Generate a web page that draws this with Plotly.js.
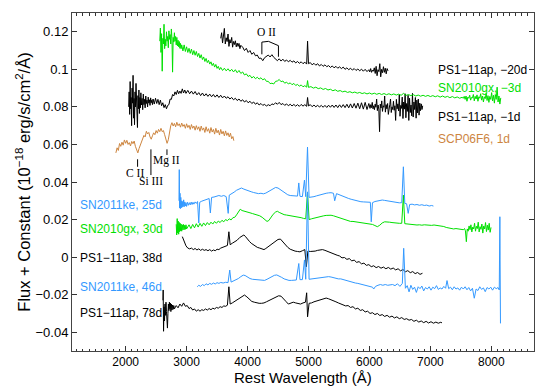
<!DOCTYPE html>
<html>
<head>
<meta charset="utf-8">
<script src="https://cdn.plot.ly/plotly-3.0.1.min.js"></script>
<style>
  html, body { margin: 0; padding: 0; background: #fff; }
  #chart { width: 550px; height: 386px; }
</style>
</head>
<body>
<div id="chart"></div>
<script>
const black = "#000000";
const green = "#00e000";
const blue = "#3399ff";
const brown = "#cd853f";

// spectra as [rest wavelength (A), flux + offset]
const ps1m20 = [
  [3560,0.1165],[3575,0.1195],[3590,0.1140],[3605,0.1175],[3620,0.1218],[3635,0.1135],[3650,0.1168],[3665,0.1148],
  [3680,0.1188],[3695,0.1122],[3710,0.1158],[3725,0.1140],[3740,0.1170],[3755,0.1118],[3770,0.1148],[3785,0.1132],
  [3800,0.1152],[3815,0.1120],[3830,0.1140],[3845,0.1122],[3860,0.1138],[3875,0.1110],[3890,0.1128],
  [3920,0.1118],[3950,0.1100],[3980,0.1112],[4010,0.1090],[4040,0.1100],[4070,0.1080],[4100,0.1090],[4130,0.1072],
  [4160,0.1076],[4190,0.1058],[4220,0.1060],[4250,0.1046],[4280,0.1062],[4310,0.1068],[4340,0.1076],[4370,0.1066],
  [4400,0.1078],[4430,0.1064],[4460,0.1056],[4490,0.1046],[4520,0.1056],[4550,0.1044],[4580,0.1054],[4610,0.1042],
  [4640,0.1050],[4670,0.1040],[4700,0.1048],[4730,0.1038],[4760,0.1045],[4790,0.1034],[4820,0.1042],[4850,0.1032],
  [4880,0.1040],[4910,0.1030],[4940,0.1038],[4970,0.1028],[4985,0.1150],[5000,0.1030],[5030,0.1036],[5060,0.1024],
  [5090,0.1032],[5120,0.1022],[5150,0.1030],[5180,0.1018],[5210,0.1026],[5240,0.1016],[5270,0.1024],[5300,0.1014],
  [5330,0.1020],[5360,0.1010],[5390,0.1018],[5420,0.1008],[5450,0.1016],[5480,0.1006],[5510,0.1013],[5540,0.1004],
  [5570,0.1012],[5600,0.1000],[5630,0.1008],[5660,0.0998],[5690,0.1006],[5720,0.0996],[5750,0.1004],[5780,0.0994],
  [5810,0.1002],[5840,0.0992],[5870,0.1001],[5900,0.0990],[5930,0.1000],[5960,0.0988],
  [5990,0.0998],[6005,0.0986],[6020,0.1004],[6035,0.0984],[6050,0.0996],[6065,0.0990],[6080,0.1008],[6095,0.0978],
  [6110,0.1016],[6125,0.0966],[6140,0.0998],[6155,0.0988],[6170,0.1030],[6185,0.0960],[6200,0.1000],[6215,0.0982],
  [6230,0.1014],[6245,0.0984],[6260,0.1006],[6275,0.0976],[6290,0.1004],[6305,0.0992]
];

const gx3 = [
  [2560,0.1150],[2570,0.1220],[2580,0.1090],[2590,0.1190],[2600,0.0990],[2610,0.1165],[2620,0.1135],[2630,0.1240],
  [2640,0.1110],[2650,0.1160],[2660,0.1125],[2670,0.1200],[2680,0.1150],[2690,0.1175],[2700,0.1115],[2710,0.1205],
  [2720,0.1160],[2730,0.1185],[2740,0.1135],[2750,0.1215],[2760,0.1165],[2770,0.0985],[2780,0.1170],[2790,0.1145],
  [2800,0.1195],[2810,0.1150],[2820,0.1175],[2830,0.1130],[2840,0.1170],[2850,0.1125],[2860,0.1155],[2870,0.1120],
  [2880,0.1148],[2890,0.1112],[2900,0.1138],[2910,0.1110],[2920,0.1130],
  [2940,0.1098],[2960,0.1130],[2980,0.1095],[3000,0.1120],[3020,0.1090],[3040,0.1112],[3060,0.1085],[3080,0.1108],
  [3100,0.1078],[3120,0.1100],[3140,0.1075],[3160,0.1095],[3180,0.1068],[3200,0.1085],[3220,0.1060],[3240,0.1078],
  [3260,0.1052],[3280,0.1066],[3300,0.1042],[3320,0.1058],[3340,0.1036],[3360,0.1048],[3380,0.1028],[3400,0.1040],
  [3420,0.1020],[3440,0.1032],[3460,0.1012],[3480,0.1026],[3500,0.1005],[3520,0.1016],[3540,0.0998],[3560,0.1010],
  [3590,0.0994],[3620,0.1006],[3650,0.0992],[3680,0.1003],[3710,0.0990],[3740,0.1000],[3770,0.0986],[3800,0.0998],
  [3830,0.0982],[3860,0.0994],[3890,0.0978],[3920,0.0986],[3950,0.0970],[3980,0.0976],[4010,0.0962],[4040,0.0968],
  [4070,0.0954],[4100,0.0962],[4130,0.0950],[4160,0.0958],[4190,0.0948],[4220,0.0955],[4250,0.0944],[4280,0.0950],
  [4310,0.0936],[4340,0.0936],[4370,0.0924],[4400,0.0926],[4430,0.0922],[4460,0.0936],[4490,0.0938],[4520,0.0946],
  [4550,0.0934],[4580,0.0938],[4610,0.0926],[4640,0.0932],[4670,0.0922],[4700,0.0928],[4730,0.0918],[4760,0.0925],
  [4790,0.0914],[4820,0.0920],[4850,0.0910],[4880,0.0917],[4910,0.0907],[4940,0.0913],[4970,0.0905],[4985,0.0940],
  [5000,0.0904],[5040,0.0908],[5080,0.0900],[5120,0.0905],[5160,0.0897],[5200,0.0901],[5240,0.0893],[5280,0.0898],
  [5320,0.0890],[5360,0.0894],[5400,0.0886],[5440,0.0891],[5480,0.0883],[5520,0.0887],[5560,0.0880],[5600,0.0884],
  [5640,0.0877],[5680,0.0881],[5720,0.0875],[5760,0.0879],[5800,0.0873],[5840,0.0877],[5880,0.0871],[5920,0.0875],
  [5960,0.0869],[6000,0.0874],[6040,0.0868],[6080,0.0873],[6120,0.0867],[6160,0.0872],[6200,0.0866],[6240,0.0871],
  [6280,0.0865],[6320,0.0870],[6360,0.0864],[6400,0.0869],[6440,0.0863],[6480,0.0868],[6520,0.0862],[6560,0.0872],
  [6600,0.0861],[6640,0.0866],[6680,0.0860],[6720,0.0865],[6760,0.0858],[6800,0.0863],[6840,0.0857],[6880,0.0862],
  [6920,0.0856],[6960,0.0861],[7000,0.0855],[7040,0.0860],[7080,0.0854],[7120,0.0859],[7160,0.0852],[7200,0.0858],
  [7240,0.0851],[7280,0.0856],[7320,0.0849],[7360,0.0855],[7400,0.0848],[7440,0.0853],[7480,0.0846],[7520,0.0851],
  [7540,0.0846],[7555,0.0856],[7570,0.0840],[7585,0.0858],[7600,0.0830],[7615,0.0852],[7630,0.0846],[7645,0.0862],
  [7660,0.0836],[7675,0.0850],[7690,0.0848],[7705,0.0866],[7720,0.0832],[7735,0.0856],[7750,0.0842],[7765,0.0864],
  [7780,0.0830],[7795,0.0854],[7810,0.0846],[7825,0.0870],[7840,0.0836],[7855,0.0858],[7870,0.0826],[7885,0.0854],
  [7900,0.0844],[7915,0.0872],[7930,0.0834],[7945,0.0860],[7960,0.0824],[7975,0.0856],[7990,0.0840],[8005,0.0876],
  [8020,0.0832],[8035,0.0862],[8050,0.0820],[8065,0.0866],[8080,0.0840],[8095,0.0905],[8110,0.0826],[8125,0.0858],
  [8140,0.0815],[8155,0.0848]
];

const ps1m1 = [
  [2050,0.0800],[2058,0.0880],[2066,0.0760],[2074,0.0935],[2082,0.0790],[2090,0.0850],[2098,0.0700],[2106,0.0900],
  [2114,0.0820],[2122,0.0968],[2130,0.0740],[2138,0.0845],[2146,0.0705],[2154,0.0880],[2162,0.0800],[2170,0.0925],
  [2178,0.0770],[2186,0.0835],[2194,0.0690],[2202,0.0860],[2210,0.0790],[2218,0.0890],[2226,0.0765],[2234,0.0850],
  [2242,0.0795],[2250,0.0875],[2260,0.0810],[2270,0.0845],[2280,0.0785],[2290,0.0868],[2300,0.0812],[2310,0.0840],
  [2320,0.0795],[2330,0.0858],[2340,0.0818],[2350,0.0836],[2360,0.0800],[2370,0.0852],[2380,0.0820],[2390,0.0838],
  [2400,0.0808],[2410,0.0848],[2420,0.0822],[2430,0.0836],[2440,0.0812],[2450,0.0842],
  [2470,0.0815],[2490,0.0846],[2510,0.0818],[2530,0.0840],[2550,0.0812],[2570,0.0836],[2590,0.0806],[2610,0.0822],
  [2630,0.0796],[2650,0.0812],[2670,0.0790],[2690,0.0808],[2710,0.0812],[2730,0.0842],[2750,0.0840],[2770,0.0866],
  [2790,0.0858],[2810,0.0880],[2830,0.0866],[2850,0.0888],[2870,0.0870],[2890,0.0884],[2910,0.0872],[2930,0.0896],
  [2950,0.0874],[2970,0.0890],[2990,0.0872],
  [3020,0.0888],[3050,0.0870],[3080,0.0884],[3110,0.0868],[3140,0.0882],[3170,0.0864],[3200,0.0876],[3230,0.0860],
  [3260,0.0874],[3290,0.0858],[3320,0.0870],[3350,0.0856],[3380,0.0868],[3410,0.0854],[3440,0.0866],[3470,0.0852],
  [3500,0.0864],[3530,0.0850],[3560,0.0862],[3590,0.0848],[3620,0.0858],[3650,0.0846],[3680,0.0854],[3710,0.0842],
  [3740,0.0850],[3770,0.0838],[3800,0.0846],[3830,0.0834],[3860,0.0842],[3890,0.0830],[3920,0.0838],[3950,0.0826],
  [3980,0.0834],[4010,0.0822],[4040,0.0830],[4070,0.0818],[4100,0.0826],[4130,0.0814],[4160,0.0822],[4190,0.0810],
  [4220,0.0818],[4250,0.0808],[4280,0.0814],[4310,0.0804],[4340,0.0812],[4370,0.0806],[4400,0.0816],[4430,0.0812],
  [4460,0.0822],[4490,0.0814],[4520,0.0824],[4550,0.0812],[4580,0.0818],[4610,0.0808],[4640,0.0816],[4670,0.0806],
  [4700,0.0814],[4730,0.0805],[4760,0.0813],[4790,0.0804],[4820,0.0812],[4850,0.0803],[4880,0.0813],[4910,0.0804],
  [4940,0.0812],[4970,0.0803],[4985,0.0850],[5000,0.0805],[5030,0.0812],[5060,0.0801],[5090,0.0810],[5120,0.0800],
  [5150,0.0809],[5180,0.0799],[5210,0.0808],[5240,0.0798],[5270,0.0808],[5300,0.0797],[5330,0.0809],[5360,0.0798],
  [5390,0.0810],[5420,0.0797],[5450,0.0810],[5480,0.0796],[5510,0.0811],[5540,0.0797],[5570,0.0812],[5600,0.0796],
  [5630,0.0814],[5660,0.0795],[5690,0.0816],[5720,0.0794],[5750,0.0818],[5780,0.0793],[5810,0.0820],[5840,0.0790],
  [5870,0.0822],[5900,0.0788],[5930,0.0824],[5960,0.0786],[5990,0.0818],
  [6010,0.0792],[6022,0.0812],[6034,0.0796],[6046,0.0824],[6058,0.0790],[6070,0.0806],[6082,0.0785],[6094,0.0815],
  [6106,0.0798],[6118,0.0842],[6130,0.0780],[6142,0.0810],[6154,0.0788],[6166,0.0668],[6178,0.0815],[6190,0.0794],
  [6202,0.0832],[6214,0.0776],[6226,0.0806],[6238,0.0798],[6250,0.0858],[6262,0.0772],[6274,0.0812],[6286,0.0790],
  [6298,0.0818],[6310,0.0760],[6322,0.0804],[6334,0.0812],[6346,0.0842],[6358,0.0770],[6370,0.0800],[6382,0.0786],
  [6394,0.0830],[6406,0.0782],[6418,0.0806],[6430,0.0728],[6442,0.0840],[6454,0.0790],[6466,0.0816],[6478,0.0778],
  [6490,0.0866],[6502,0.0750],[6514,0.0808],[6526,0.0792],[6538,0.0852],[6550,0.0738],[6562,0.0826],[6574,0.0788],
  [6586,0.0870],[6598,0.0742],[6610,0.0818],[6622,0.0776],[6634,0.0862],[6646,0.0728],[6658,0.0846],[6670,0.0770],
  [6682,0.0810],[6694,0.0752],[6706,0.0872],[6718,0.0746],[6730,0.0826],[6742,0.0786],[6754,0.0850],[6766,0.0740],
  [6778,0.0836],[6790,0.0768],[6802,0.0842],[6814,0.0756],[6826,0.0820],[6838,0.0780],[6850,0.0816],[6862,0.0786],
  [6874,0.0806]
];

const scp = [
  [1840,0.0555],[1860,0.0582],[1880,0.0568],[1900,0.0605],[1920,0.0590],[1940,0.0612],[1960,0.0596],[1980,0.0624],
  [2000,0.0606],[2020,0.0622],[2040,0.0600],[2060,0.0610],[2080,0.0592],[2100,0.0616],[2120,0.0604],[2140,0.0618],
  [2160,0.0590],[2180,0.0575],[2200,0.0555],[2220,0.0578],[2240,0.0598],[2260,0.0614],[2280,0.0632],[2300,0.0648],
  [2320,0.0640],[2340,0.0670],[2360,0.0656],[2380,0.0664],[2400,0.0640],[2420,0.0628],[2440,0.0646],[2460,0.0662],
  [2480,0.0652],[2500,0.0674],[2520,0.0660],[2540,0.0680],[2560,0.0668],[2580,0.0686],[2600,0.0668],[2620,0.0674],
  [2640,0.0652],[2660,0.0630],[2680,0.0606],[2700,0.0625],[2720,0.0664],[2740,0.0700],[2760,0.0716],[2780,0.0698],
  [2800,0.0712],[2820,0.0694],[2840,0.0718],[2860,0.0700],[2880,0.0710],[2900,0.0692],[2920,0.0714],[2940,0.0696],
  [2960,0.0706],[2980,0.0686],[3000,0.0710],[3020,0.0690],[3040,0.0702],[3060,0.0680],[3080,0.0706],[3100,0.0686],
  [3120,0.0698],[3140,0.0676],[3160,0.0700],[3180,0.0680],[3200,0.0694],[3220,0.0670],[3240,0.0698],[3260,0.0676],
  [3280,0.0688],[3300,0.0664],[3320,0.0694],[3340,0.0670],[3360,0.0684],[3380,0.0660],[3400,0.0690],[3420,0.0666],
  [3440,0.0680],[3460,0.0655],[3480,0.0686],[3500,0.0662],[3520,0.0676],[3540,0.0650],[3560,0.0680],[3580,0.0656],
  [3600,0.0670],[3620,0.0646],[3640,0.0672],[3660,0.0648],[3680,0.0662],[3700,0.0640],[3720,0.0660],[3740,0.0630],
  [3760,0.0642],[3775,0.0620]
];

const ke25 = [
  [2875,0.0300],[2880,0.0466],[2886,0.0262],[2892,0.0340],[2898,0.0258],[2905,0.0318],[2912,0.0262],[2920,0.0300],
  [2928,0.0266],[2936,0.0296],[2944,0.0270],[2952,0.0305],[2960,0.0268],[2970,0.0294],[2980,0.0272],[2990,0.0290],
  [3000,0.0270],[3015,0.0292],[3030,0.0276],[3045,0.0290],[3060,0.0278],[3075,0.0293],[3090,0.0280],[3105,0.0292],
  [3120,0.0282],[3140,0.0294],[3160,0.0286],[3180,0.0296],[3200,0.0182],
  [3215,0.0292],[3250,0.0298],[3290,0.0304],[3330,0.0310],[3370,0.0312],[3390,0.0235],[3410,0.0318],[3450,0.0320],
  [3490,0.0324],[3530,0.0328],[3570,0.0324],[3610,0.0328],[3650,0.0322],[3683,0.0233],[3700,0.0330],[3740,0.0336],
  [3780,0.0346],[3820,0.0356],[3860,0.0364],[3900,0.0368],[3940,0.0362],[3980,0.0356],[4020,0.0350],[4060,0.0348],
  [4100,0.0344],[4140,0.0340],[4180,0.0338],[4220,0.0340],[4260,0.0337],[4300,0.0341],[4340,0.0348],[4380,0.0358],
  [4420,0.0366],[4460,0.0371],[4500,0.0368],[4540,0.0358],[4580,0.0348],[4620,0.0338],[4660,0.0332],[4700,0.0328],
  [4740,0.0326],[4780,0.0324],[4820,0.0325],[4841,0.0395],[4860,0.0324],[4900,0.0322],[4934,0.0410],[4955,0.0322],
  [4984,0.0586],[5010,0.0318],[5050,0.0318],[5090,0.0322],[5130,0.0326],[5170,0.0330],[5210,0.0334],[5250,0.0336],
  [5290,0.0340],[5330,0.0342],[5370,0.0343],[5410,0.0340],[5430,0.0300],[5460,0.0338],[5500,0.0332],[5540,0.0326],
  [5580,0.0320],[5620,0.0316],[5660,0.0312],[5700,0.0308],[5740,0.0304],[5780,0.0300],[5820,0.0298],[5860,0.0295],
  [5900,0.0294],[5940,0.0293],[5980,0.0292],[6015,0.0292],[6030,0.0188],[6050,0.0290],[6090,0.0296],[6130,0.0300],
  [6170,0.0303],[6210,0.0304],[6250,0.0302],[6290,0.0300],[6330,0.0296],[6370,0.0294],[6410,0.0291],[6450,0.0290],
  [6490,0.0289],[6530,0.0290],[6557,0.0481],[6580,0.0286],[6610,0.0284],[6636,0.0233],[6660,0.0280],[6700,0.0282],
  [6740,0.0278],[6780,0.0280],[6820,0.0276],[6860,0.0279],[6900,0.0275],[6940,0.0277],[6980,0.0272],[7020,0.0275],
  [7050,0.0272]
];

const gx30 = [
  [2830,0.0175],[2838,0.0118],[2846,0.0205],[2854,0.0128],[2862,0.0192],[2870,0.0122],[2878,0.0185],[2886,0.0135],
  [2894,0.0180],[2902,0.0140],[2910,0.0176],[2920,0.0138],[2930,0.0172],[2940,0.0145],[2950,0.0174],[2960,0.0146],
  [2970,0.0170],[2980,0.0148],[2990,0.0172],[3000,0.0150],
  [3040,0.0172],[3070,0.0152],[3100,0.0174],[3130,0.0156],[3160,0.0178],[3190,0.0160],[3220,0.0180],[3250,0.0164],
  [3280,0.0182],[3310,0.0168],[3340,0.0184],[3370,0.0172],[3400,0.0186],[3430,0.0176],[3460,0.0190],[3490,0.0180],
  [3520,0.0192],[3550,0.0184],[3580,0.0196],[3610,0.0188],[3640,0.0200],[3670,0.0194],[3700,0.0204],[3730,0.0198],
  [3760,0.0210],[3790,0.0212],[3820,0.0225],[3850,0.0240],[3880,0.0255],[3910,0.0248],[3940,0.0246],[3970,0.0240],
  [4000,0.0242],[4040,0.0236],[4080,0.0232],[4120,0.0228],[4160,0.0226],[4200,0.0220],[4240,0.0212],[4280,0.0200],
  [4320,0.0190],[4350,0.0195],[4380,0.0210],[4420,0.0228],[4460,0.0240],[4490,0.0244],[4520,0.0238],[4560,0.0230],
  [4600,0.0226],[4640,0.0224],[4680,0.0222],[4720,0.0218],[4760,0.0216],[4800,0.0214],[4840,0.0212],[4880,0.0210],
  [4920,0.0206],[4955,0.0204],[4984,0.0347],[5010,0.0200],[5050,0.0204],[5090,0.0208],[5130,0.0212],[5170,0.0215],
  [5210,0.0218],[5250,0.0220],[5290,0.0222],[5330,0.0224],[5370,0.0223],[5410,0.0220],[5450,0.0216],[5490,0.0212],
  [5530,0.0206],[5570,0.0200],[5610,0.0196],[5650,0.0192],[5690,0.0190],[5730,0.0190],[5770,0.0188],[5810,0.0186],
  [5850,0.0185],[5890,0.0184],[5930,0.0182],[5970,0.0180],[6010,0.0178],[6050,0.0174],[6090,0.0168],[6130,0.0162],
  [6170,0.0170],[6210,0.0182],[6250,0.0188],[6290,0.0189],[6330,0.0186],[6370,0.0184],[6410,0.0182],[6450,0.0181],
  [6490,0.0180],[6530,0.0180],[6557,0.0330],[6580,0.0178],[6620,0.0176],[6660,0.0174],[6700,0.0172],[6740,0.0173],
  [6780,0.0171],[6820,0.0172],[6860,0.0170],[6900,0.0172],[6940,0.0170],[6980,0.0171],[7020,0.0169],[7060,0.0171],
  [7100,0.0170],[7140,0.0168],[7180,0.0166],[7220,0.0163],[7260,0.0158],[7300,0.0154],[7340,0.0152],[7380,0.0150],
  [7420,0.0152],[7460,0.0150],[7500,0.0148],[7540,0.0146],
  [7560,0.0152],[7575,0.0140],[7590,0.0082],[7605,0.0150],[7620,0.0138],[7635,0.0166],[7650,0.0146],[7665,0.0172],
  [7680,0.0134],[7695,0.0160],[7710,0.0150],[7725,0.0180],[7740,0.0138],[7755,0.0164],[7770,0.0152],[7785,0.0186],
  [7800,0.0134],[7815,0.0162],[7830,0.0148],[7845,0.0176],[7860,0.0128],[7875,0.0166],[7890,0.0150],[7905,0.0184],
  [7920,0.0136],[7935,0.0170],[7950,0.0144],[7965,0.0180],[7980,0.0132],[7995,0.0158]
];

const ps1d38 = [
  [2930,0.0109],[2960,0.0080],[2990,0.0060],[3020,0.0048],[3050,0.0044],[3080,0.0048],[3110,0.0040],[3140,0.0046],
  [3170,0.0038],[3200,0.0044],[3230,0.0036],[3260,0.0042],[3290,0.0036],[3320,0.0040],[3350,0.0034],[3380,0.0040],
  [3410,0.0032],[3440,0.0038],[3470,0.0034],[3500,0.0042],[3530,0.0040],[3560,0.0048],[3600,0.0054],[3640,0.0058],
  [3670,0.0062],[3694,0.0135],[3715,0.0066],[3750,0.0074],[3790,0.0082],[3830,0.0090],[3870,0.0104],[3910,0.0114],
  [3940,0.0118],[3970,0.0108],[4000,0.0094],[4030,0.0084],[4060,0.0074],[4090,0.0066],[4120,0.0060],[4160,0.0052],
  [4200,0.0048],[4240,0.0042],[4270,0.0040],[4300,0.0046],[4340,0.0056],[4380,0.0066],[4420,0.0078],[4460,0.0088],
  [4500,0.0094],[4540,0.0096],[4580,0.0080],[4620,0.0064],[4660,0.0052],[4700,0.0042],[4740,0.0036],[4780,0.0032],
  [4820,0.0030],[4860,0.0028],[4900,0.0034],[4940,0.0040],[4965,-0.0051],[4990,0.0032],[5030,0.0030],[5070,0.0030],
  [5110,0.0032],[5150,0.0036],[5190,0.0040],[5230,0.0040],[5270,0.0036],[5310,0.0030],[5350,0.0024],[5390,0.0018],
  [5430,0.0014],[5470,0.0010],[5510,0.0006],[5550,-0.0004],[5590,-0.0002],[5630,-0.0012],[5670,-0.0008],[5710,-0.0020],
  [5750,-0.0016],[5790,-0.0028],[5830,-0.0024],[5870,-0.0036],[5910,-0.0032],[5950,-0.0044],[5990,-0.0040],[6030,-0.0051],
  [6070,-0.0046],[6110,-0.0056],[6150,-0.0050],[6190,-0.0059],[6230,-0.0053],[6270,-0.0062],[6310,-0.0055],[6350,-0.0064],
  [6390,-0.0058],[6430,-0.0068],[6470,-0.0062],[6510,-0.0073],[6550,-0.0066],[6590,-0.0078],[6630,-0.0072],[6670,-0.0083],
  [6710,-0.0077],[6750,-0.0088],[6790,-0.0082],[6830,-0.0092],[6870,-0.0086]
];

const ke46 = [
  [3175,-0.0158],[3200,-0.0150],[3230,-0.0156],[3260,-0.0146],[3290,-0.0152],[3320,-0.0142],[3350,-0.0148],[3380,-0.0140],
  [3410,-0.0145],[3440,-0.0138],[3470,-0.0143],[3500,-0.0136],[3530,-0.0140],[3560,-0.0135],[3600,-0.0138],[3640,-0.0134],
  [3680,-0.0136],[3708,-0.0069],[3730,-0.0133],[3770,-0.0128],[3810,-0.0122],[3850,-0.0114],[3890,-0.0104],[3930,-0.0096],
  [3960,-0.0098],[4000,-0.0108],[4040,-0.0114],[4080,-0.0118],[4120,-0.0120],[4160,-0.0122],[4200,-0.0124],[4240,-0.0126],
  [4280,-0.0124],[4320,-0.0118],[4360,-0.0110],[4400,-0.0102],[4440,-0.0097],[4480,-0.0095],[4520,-0.0100],[4560,-0.0108],
  [4600,-0.0116],[4640,-0.0121],[4680,-0.0124],[4720,-0.0124],[4760,-0.0123],[4800,-0.0122],[4841,-0.0034],[4860,-0.0120],
  [4900,-0.0120],[4934,-0.0015],[4955,-0.0118],[4984,0.0347],[5010,-0.0118],[5050,-0.0116],[5090,-0.0114],[5130,-0.0112],
  [5170,-0.0110],[5210,-0.0108],[5250,-0.0106],[5290,-0.0104],[5330,-0.0104],[5370,-0.0106],[5410,-0.0110],[5450,-0.0114],
  [5490,-0.0116],[5530,-0.0116],[5570,-0.0120],[5610,-0.0126],[5650,-0.0130],[5690,-0.0134],[5730,-0.0136],[5770,-0.0138],
  [5810,-0.0140],[5850,-0.0144],[5890,-0.0148],[5930,-0.0150],[5970,-0.0152],[6010,-0.0156],[6050,-0.0160],[6070,-0.0170],
  [6100,-0.0156],[6140,-0.0150],[6180,-0.0146],[6220,-0.0150],[6260,-0.0146],[6300,-0.0150],[6340,-0.0148],[6380,-0.0146],
  [6420,-0.0152],[6460,-0.0142],[6500,-0.0156],[6540,-0.0140],[6562,0.0047],[6590,-0.0166],[6620,-0.0152],[6650,-0.0185],
  [6680,-0.0150],[6710,-0.0172],[6740,-0.0160],[6770,-0.0188],[6800,-0.0158],[6830,-0.0168],[6860,-0.0154],[6890,-0.0180],
  [6920,-0.0162],[6950,-0.0170],[6980,-0.0158],[7010,-0.0176],[7040,-0.0160],[7070,-0.0168],[7100,-0.0152],[7130,-0.0172],
  [7160,-0.0164],[7190,-0.0170],[7220,-0.0156],[7250,-0.0166],[7273,-0.0125],[7300,-0.0168],[7330,-0.0160],[7360,-0.0174],
  [7390,-0.0158],[7420,-0.0170],[7450,-0.0164],[7480,-0.0176],[7510,-0.0160],[7540,-0.0170],[7570,-0.0158],[7600,-0.0174],
  [7630,-0.0162],[7660,-0.0180],[7690,-0.0166],[7720,-0.0219],[7750,-0.0170],[7780,-0.0178],[7810,-0.0158],[7840,-0.0172],
  [7870,-0.0164],[7900,-0.0184],[7930,-0.0162],[7960,-0.0170],[7990,-0.0160],[8020,-0.0176],[8050,-0.0160],[8080,-0.0168],
  [8110,-0.0162],[8130,-0.0175],[8140,0.0215],[8150,-0.0353]
];

const ps1d78 = [
  [2612,-0.0230],[2616,-0.0175],[2622,-0.0395],[2630,-0.0265],[2638,-0.0340],[2646,-0.0250],[2654,-0.0310],[2662,-0.0240],
  [2670,-0.0290],[2678,-0.0330],[2686,-0.0378],[2694,-0.0300],[2702,-0.0250],[2710,-0.0285],[2718,-0.0240],[2726,-0.0275],
  [2734,-0.0245],[2742,-0.0290],[2750,-0.0250],[2760,-0.0282],[2770,-0.0255],[2780,-0.0278],[2790,-0.0258],[2800,-0.0276],
  [2830,-0.0258],[2860,-0.0270],[2890,-0.0250],[2920,-0.0262],[2950,-0.0244],[2980,-0.0262],[3010,-0.0258],[3040,-0.0274],
  [3070,-0.0268],[3100,-0.0282],[3130,-0.0276],[3160,-0.0288],[3190,-0.0280],[3220,-0.0288],[3250,-0.0280],[3280,-0.0284],
  [3310,-0.0276],[3340,-0.0282],[3370,-0.0274],[3400,-0.0280],[3430,-0.0272],[3460,-0.0276],[3490,-0.0268],[3520,-0.0272],
  [3550,-0.0264],[3580,-0.0268],[3610,-0.0260],[3640,-0.0262],[3670,-0.0256],[3694,-0.0158],[3715,-0.0250],[3750,-0.0244],
  [3790,-0.0236],[3830,-0.0228],[3870,-0.0218],[3910,-0.0208],[3950,-0.0202],[3990,-0.0212],[4030,-0.0226],[4070,-0.0236],
  [4110,-0.0240],[4150,-0.0244],[4190,-0.0246],[4230,-0.0246],[4270,-0.0244],[4310,-0.0238],[4350,-0.0232],[4390,-0.0226],
  [4430,-0.0218],[4470,-0.0210],[4510,-0.0206],[4550,-0.0208],[4590,-0.0220],[4630,-0.0236],[4670,-0.0250],[4710,-0.0246],
  [4750,-0.0240],[4790,-0.0244],[4830,-0.0246],[4870,-0.0250],[4910,-0.0244],[4950,-0.0240],[4970,-0.0190],[4985,-0.0318],
  [5010,-0.0246],[5050,-0.0244],[5090,-0.0238],[5130,-0.0234],[5170,-0.0228],[5210,-0.0222],[5250,-0.0220],[5290,-0.0218],
  [5330,-0.0222],[5370,-0.0226],[5410,-0.0232],[5450,-0.0238],[5490,-0.0244],[5530,-0.0250],[5570,-0.0252],[5610,-0.0260],
  [5650,-0.0258],[5690,-0.0268],[5730,-0.0264],[5770,-0.0276],[5810,-0.0272],[5850,-0.0284],[5890,-0.0280],[5930,-0.0292],
  [5970,-0.0288],[6010,-0.0300],[6050,-0.0296],[6090,-0.0306],[6130,-0.0300],[6170,-0.0311],[6210,-0.0306],[6250,-0.0316],
  [6290,-0.0310],[6330,-0.0320],[6370,-0.0314],[6410,-0.0324],[6450,-0.0318],[6490,-0.0328],[6530,-0.0322],[6570,-0.0332],
  [6610,-0.0328],[6650,-0.0336],[6690,-0.0332],[6730,-0.0342],[6770,-0.0336],[6810,-0.0346],[6850,-0.0340],[6890,-0.0349],
  [6930,-0.0342],[6970,-0.0351],[7010,-0.0344],[7050,-0.0352],[7090,-0.0346],[7130,-0.0352],[7170,-0.0347],[7190,-0.0350]
];

// labels beside the spectra
const labelText = ["PS1\u221211ap, \u221220d", "SN2010gx, \u22123d", "PS1\u221211ap, \u22121d", "SCP06F6, 1d",
  "SN2011ke, 25d", "SN2010gx, 30d", "PS1\u221211ap, 38d", "SN2011ke, 46d", "PS1\u221211ap, 78d"];
const labelColor = [black, green, black, brown, blue, green, black, blue, black];
const labelWl = [7090, 7090, 7090, 7090, 1225, 1225, 1225, 1225, 1225];
const labelFlux = [0.0996, 0.0899, 0.0748, 0.0627, 0.0277, 0.0148, -0.0006, -0.0161, -0.0299];

// line identifications
const idText = ["O II", "C II", "Si III", "Mg II"];
const idTextWl = [4317, 2158, 2412, 2678];
const idTextFlux = [0.1199, 0.0449, 0.0404, 0.0517];
const idMarkWl = [2196, 2415, 2678];
const idMarkTop = [0.0521, 0.0574, 0.0574];
const idMarkBottom = [0.0481, 0.0437, 0.0544];
const oiiLegWl = [4235, 4507];
const oiiLegTop = [0.1145, 0.1126];
const oiiLegBottom = [0.1080, 0.1067];
const oiiJoinWl = 4343, oiiJoinFlux = 0.1149;

const xTickVals = [2000, 3000, 4000, 5000, 6000, 7000, 8000];
const xTickText = ["2000", "3000", "4000", "5000", "6000", "7000", "8000"];
const yTickVals = [-0.04, -0.02, 0, 0.02, 0.04, 0.06, 0.08, 0.1, 0.12];
const yTickText = ["\u22120.04", "\u22120.02", "0", "0.02", "0.04", "0.06", "0.08", "0.1", "0.12"];

function lineTrace(spec, color) {
  return {
    x: spec.map(p => p[0]),
    y: spec.map(p => p[1]),
    type: "scatter", mode: "lines",
    line: { color: color, width: 1 },
    hoverinfo: "skip", showlegend: false
  };
}

const traces = [
  lineTrace(scp, brown),
  lineTrace(ps1m1, black),
  lineTrace(gx3, green),
  lineTrace(ps1m20, black),
  lineTrace(ps1d78, black),
  lineTrace(ps1d38, black),
  lineTrace(gx30, green),
  lineTrace(ke46, blue),
  lineTrace(ke25, blue)
];

const annotations = labelText.map((t, i) => ({
  x: labelWl[i], y: labelFlux[i], xref: "x", yref: "y",
  text: t, showarrow: false, xanchor: "left", yanchor: "middle",
  font: { family: "Liberation Sans, Arial, sans-serif", size: 12, color: labelColor[i] }
}));
idText.forEach((t, i) => {
  annotations.push({
    x: idTextWl[i], y: idTextFlux[i], xref: "x", yref: "y",
    text: t, showarrow: false, xanchor: "center", yanchor: "middle",
    font: { family: "Liberation Serif, Times New Roman, serif", size: 11.5, color: "#000" }
  });
});
// x axis title, set just under the tick labels and inside the canvas
annotations.push({
  x: 0.5, y: -0.051, xref: "paper", yref: "paper",
  text: "Rest Wavelength (Å)", showarrow: false, xanchor: "center", yanchor: "top",
  borderpad: 0,
  font: { family: "Liberation Sans, Arial, sans-serif", size: 15, color: "#000" }
});

const shapes = [];
idMarkWl.forEach((w, i) => {
  shapes.push({ type: "line", xref: "x", yref: "y", x0: w, x1: w, y0: idMarkBottom[i], y1: idMarkTop[i],
    line: { color: "#000", width: 1 } });
});
oiiLegWl.forEach((w, i) => {
  shapes.push({ type: "line", xref: "x", yref: "y", x0: w, x1: w, y0: oiiLegBottom[i], y1: oiiLegTop[i],
    line: { color: "#000", width: 1 } });
  shapes.push({ type: "line", xref: "x", yref: "y", x0: w, x1: oiiJoinWl, y0: oiiLegTop[i], y1: oiiJoinFlux,
    line: { color: "#000", width: 1 } });
});

const layout = {
  width: 550,
  height: 386,
  paper_bgcolor: "#ffffff",
  plot_bgcolor: "#ffffff",
  margin: { l: 72, r: 16, t: 13, b: 35 },
  font: { family: "Liberation Sans, Arial, sans-serif", size: 13, color: "#000" },
  showlegend: false,
  xaxis: {
    range: [1120, 8700],
    tickmode: "array",
    tickvals: xTickVals,
    ticktext: xTickText,
    ticks: "inside",
    ticklen: 5,
    tickcolor: "#333",
    minor: { tickmode: "linear", tick0: 0, dtick: 100, ticks: "inside", ticklen: 2.5, tickcolor: "#333" },
    showline: true,
    linecolor: "#444",
    linewidth: 1,
    mirror: "ticks",
    showgrid: false,
    zeroline: false,
    tickfont: { size: 12 }
  },
  yaxis: {
    range: [-0.05, 0.13],
    tickmode: "array",
    tickvals: yTickVals,
    ticktext: yTickText,
    ticks: "inside",
    ticklen: 5,
    tickcolor: "#333",
    showline: true,
    linecolor: "#444",
    linewidth: 1,
    mirror: "ticks",
    showgrid: false,
    zeroline: false,
    tickfont: { size: 13 },
    title: { text: "Flux + Constant (10<sup>\u221218</sup> erg/s/cm<sup>2</sup>/Å)", font: { size: 16.5 }, standoff: 0 }
  },
  annotations: annotations,
  shapes: shapes
};

Plotly.newPlot("chart", traces, layout, { displayModeBar: false, staticPlot: true });
</script>
</body>
</html>
